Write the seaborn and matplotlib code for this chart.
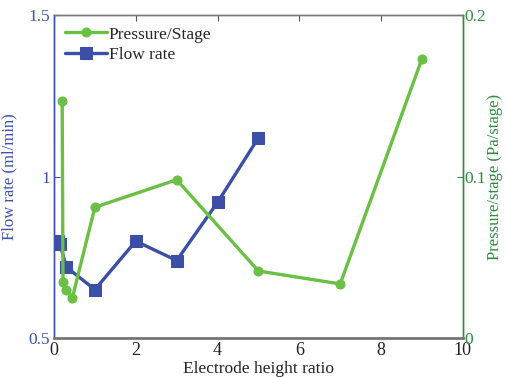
import matplotlib
matplotlib.use("Agg")
import matplotlib.pyplot as plt
import seaborn as sns
import pandas as pd

# Data
ratio_pressure = [0.2, 0.22, 0.3, 0.45, 1, 3, 5, 7, 9]
pressure_stage = [0.147, 0.035, 0.030, 0.025, 0.081, 0.098, 0.0415, 0.0335, 0.173]
ratio_flow = [0.1, 0.15, 0.3, 1, 2, 3, 4, 5]
flow_rate = [0.80, 0.79, 0.72, 0.65, 0.80, 0.74, 0.92, 1.12]
x_ticks = [0, 2, 4, 6, 8, 10]
left_ticks = [0.5, 1, 1.5]
right_ticks = [0, 0.1, 0.2]

sns.set_style("white")
plt.rcParams['font.family'] = ['Liberation Serif', 'DejaVu Serif']

GREEN = "#6ABF45"
BLUE = "#3B4FA6"
GREEN_TXT = "#2E8B3E"
BLUE_TXT = "#3F51B0"

fig = plt.figure(figsize=(5.07, 3.77), dpi=100)
ax = fig.add_axes([0.1065, 0.1034, 0.8065, 0.8566])
ax2 = ax.twinx()

df_f = pd.DataFrame({"x": ratio_flow, "y": flow_rate})
df_p = pd.DataFrame({"x": ratio_pressure, "y": pressure_stage})

sns.lineplot(data=df_f, x="x", y="y", ax=ax, sort=False, estimator=None,
             color=BLUE, lw=2.4, marker="s", markersize=8, markeredgecolor=BLUE,
             label="Flow rate", legend=False)
sns.lineplot(data=df_p, x="x", y="y", ax=ax2, sort=False, estimator=None,
             color=GREEN, lw=2.4, marker="o", markersize=6.5, markeredgecolor=GREEN,
             label="Pressure/Stage", legend=False)

ax.set_xlim(0, 10)
ax.set_ylim(0.5, 1.5)
ax2.set_ylim(0, 0.2)
ax.set_xticks(x_ticks)
ax.set_xticklabels([str(t) for t in x_ticks])
ax.set_yticks(left_ticks)
ax.set_yticklabels(["0.5", "1", "1.5"])
ax2.set_yticks(right_ticks)
ax2.set_yticklabels(["0", "0.1", "0.2"])

ax.tick_params(axis="x", direction="in", length=4, colors="#555555", labelcolor="#222222",
               labelsize=13, pad=3, top=True)
ax.tick_params(axis="y", direction="in", length=4, colors=BLUE_TXT, labelcolor=BLUE_TXT,
               labelsize=12.5, pad=3)
ax2.tick_params(axis="y", direction="in", length=4, colors=GREEN_TXT, labelcolor=GREEN_TXT,
                labelsize=12.5, pad=1)

for a in (ax, ax2):
    a.spines["top"].set_color("#777777")
    a.spines["bottom"].set_color("#777777")
    a.spines["left"].set_color(BLUE_TXT)
    a.spines["right"].set_color(GREEN_TXT)
    for s in a.spines.values():
        s.set_linewidth(1.0)
ax2.spines["bottom"].set_linewidth(2.0)

ax.set_xlabel("Electrode height ratio", fontsize=12.5, color="#222222", labelpad=1)
ax.set_ylabel("Flow rate (ml/min)", fontsize=12, color=BLUE_TXT, labelpad=8)
ax2.set_ylabel("Pressure/stage (Pa/stage)", fontsize=12, color=GREEN_TXT, labelpad=1)

h1, l1 = ax.get_legend_handles_labels()
h2, l2 = ax2.get_legend_handles_labels()
ax2.legend(h2 + h1, l2 + l1, loc="upper left", frameon=False, fontsize=12.5,
           handlelength=2.4, handletextpad=0.1, borderaxespad=0.25, labelspacing=0.25,
           bbox_to_anchor=(0.0, 1.0))

fig.savefig("out.png", dpi=100)
